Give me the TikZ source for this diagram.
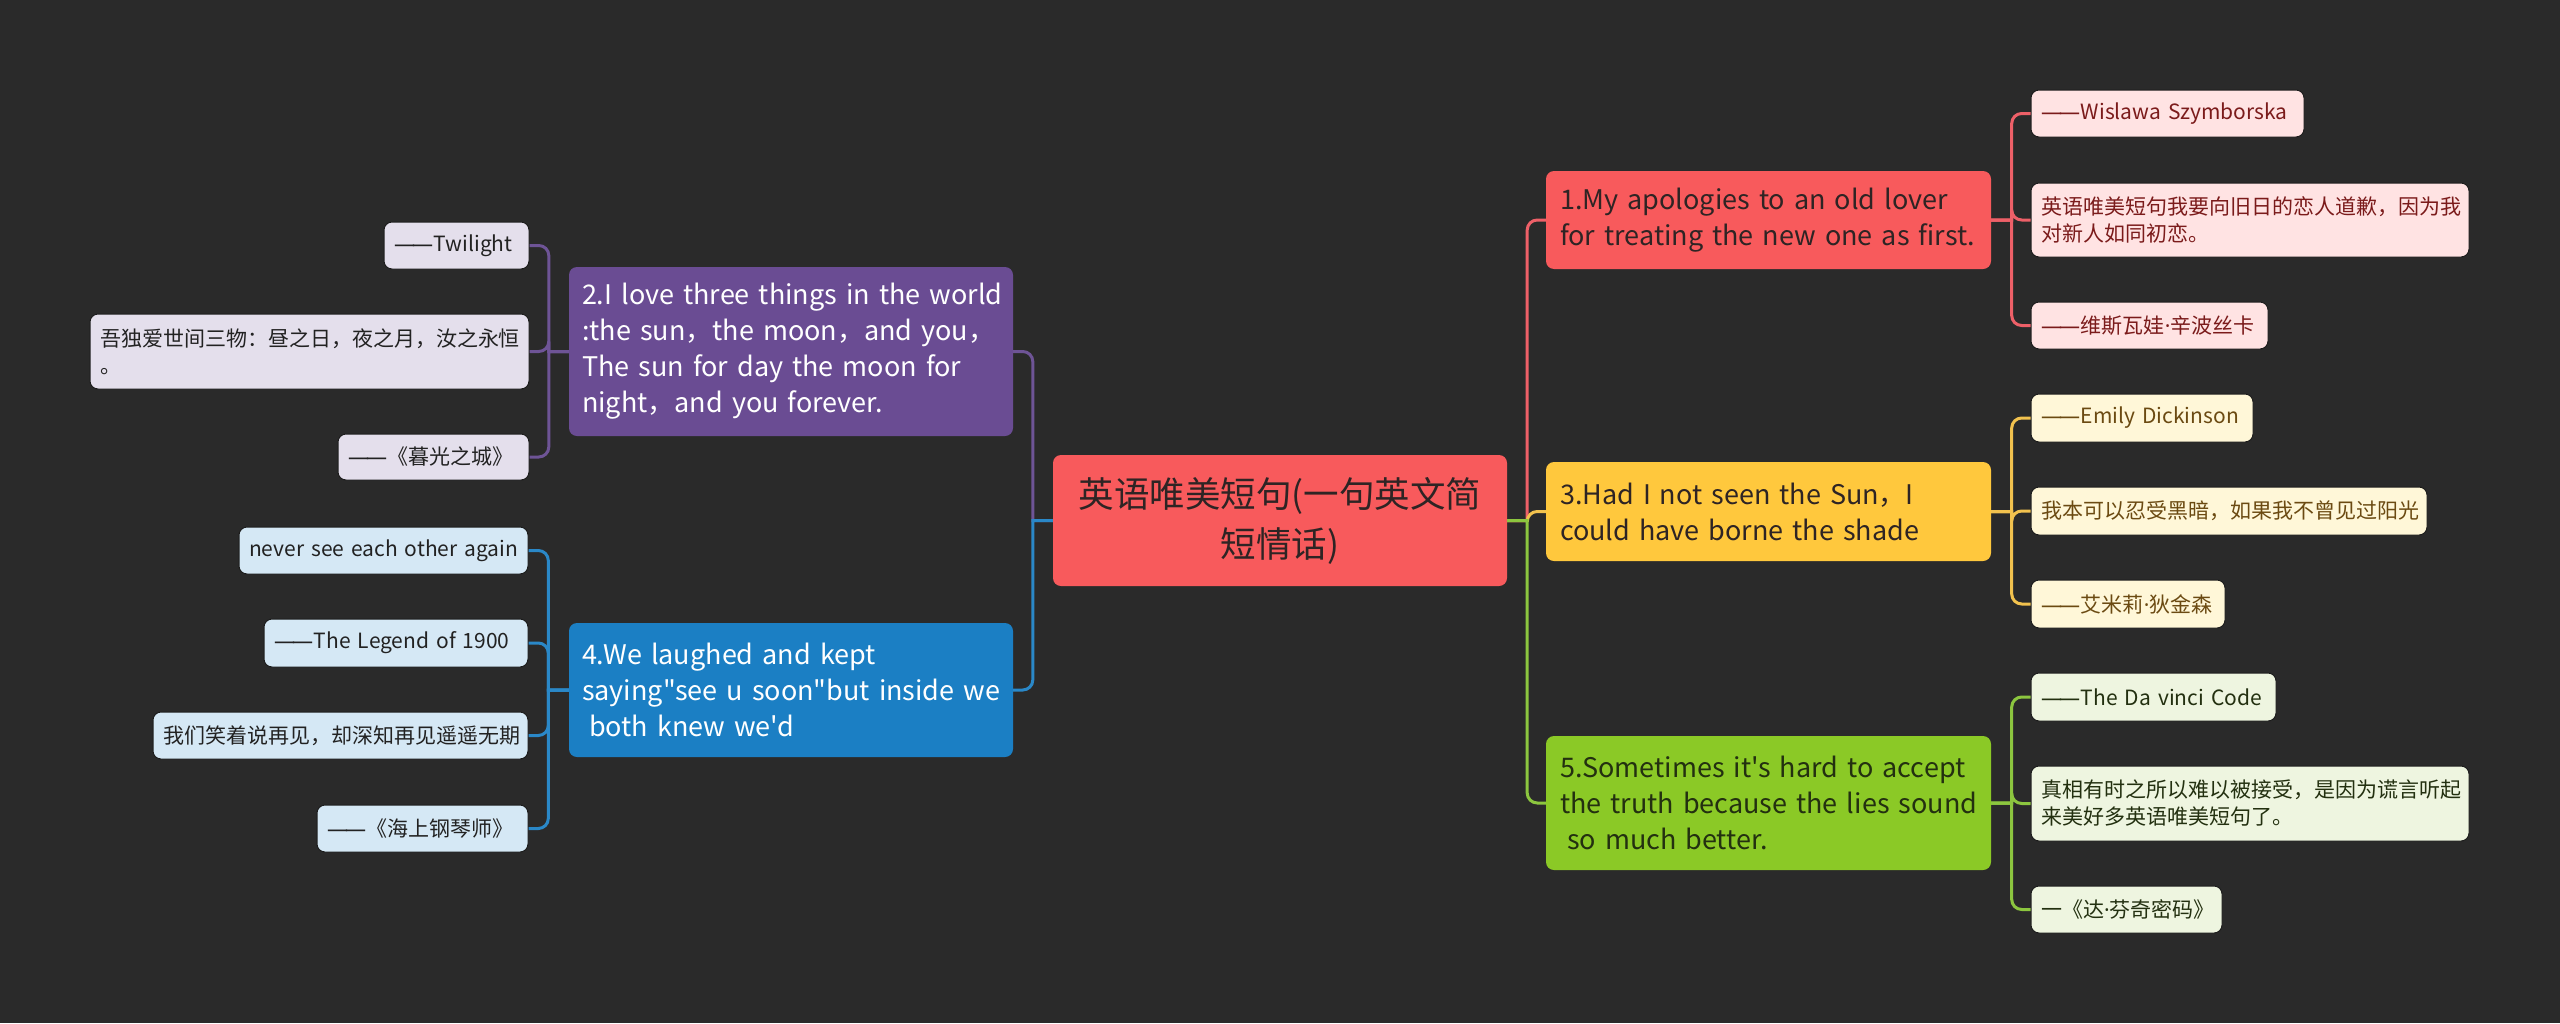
\documentclass[tikz,border=0pt]{standalone}
\usepackage{fontspec}
\setmainfont{Noto Sans CJK SC}[Ligatures=TeXOff]
\newfontfamily\latinf{Noto Sans}[Ligatures=TeXOff]
\newcommand\mydash{{\latinf —\kern-0.14em—\kern0.04em}}
\newcommand\mydot{{\latinf ·}}
\newcommand\myl[1]{\mbox{#1}}
\definecolor{bg}{HTML}{2A2A2A}
\definecolor{redm}{HTML}{F85A5C}
\definecolor{redl}{HTML}{EE6068}
\definecolor{redk}{HTML}{FFE3E3}
\definecolor{redt}{HTML}{7B1B1B}
\definecolor{yelm}{HTML}{FFC83D}
\definecolor{yell}{HTML}{F2C24E}
\definecolor{yelk}{HTML}{FFF7D8}
\definecolor{yelt}{HTML}{6B4A12}
\definecolor{grnm}{HTML}{8BC926}
\definecolor{grnl}{HTML}{8CC63F}
\definecolor{grnk}{HTML}{EEF5E0}
\definecolor{grnt}{HTML}{233010}
\definecolor{purm}{HTML}{6A4C93}
\definecolor{purl}{HTML}{6E5496}
\definecolor{purk}{HTML}{E4DFEC}
\definecolor{blum}{HTML}{1B7FC4}
\definecolor{blul}{HTML}{2A88C8}
\definecolor{bluk}{HTML}{D5E8F5}
\definecolor{darkt}{HTML}{2E2424}
\definecolor{kidt}{HTML}{222222}
\definecolor{kidedge}{HTML}{1C1C1C}
\begin{document}
\begin{tikzpicture}[x=1pt,y=-1pt,
  box/.style={rounded corners=8pt, inner ysep=0pt, align=left, anchor=center},
  mainbox/.style={box, inner xsep=14pt, font=\fontsize{27}{36}\selectfont, text width=417pt},
  kid/.style={box, inner xsep=10pt, font=\fontsize{21}{27}\selectfont, draw=kidedge, line width=1pt},
  conn/.style={line width=3pt}
]
\fill[bg] (0,0) rectangle (2560,1023);
\useasboundingbox (0,0) rectangle (2560,1023);

% center
\node[box, fill=redm, text=darkt, align=center, inner xsep=12pt, text width=430pt, minimum height=131pt,
  font=\fontsize{35.5}{50}\selectfont] (c) at (1280,520.5) {\myl{英语唯美短句(一句英文简}\\\myl{短情话)}};

% main topics
\node[mainbox, fill=redm, text=darkt, minimum height=98pt] (n1) at (1768.5,220)
  {\myl{1.My apologies to an old lover}\\\myl{for treating the new one as first.}};
\node[mainbox, fill=yelm, text=darkt, minimum height=99pt] (n3) at (1768.5,511.5)
  {\myl{3.Had I not seen the Sun，I}\\\myl{could have borne the shade}};
\node[mainbox, fill=grnm, text=grnt, minimum height=134pt] (n5) at (1768.5,803)
  {\myl{5.Sometimes it's hard to accept}\\\myl{the truth because the lies sound}\\\myl{\hspace*{7pt}so much better.}};
\node[mainbox, fill=purm, text=white, inner xsep=13pt, text width=418pt, minimum height=169pt] (n2) at (791,351.5)
  {\myl{2.I love three things in the world}\\\myl{:the sun，the moon，and you，}\\\myl{The sun for day the moon for}\\\myl{night，and you forever.}};
\node[mainbox, fill=blum, text=white, inner xsep=13pt, text width=418pt, minimum height=134pt] (n4) at (791,690)
  {\myl{4.We laughed and kept}\\\myl{saying"see u soon"but inside we}\\\myl{\hspace*{7pt}both knew we'd}};

% right children
\node[kid, fill=redk, text=redt, text width=253pt, minimum height=47pt] (k1a) at (2167.5,113.5) {\myl{\mydash Wislawa Szymborska}};
\node[kid, fill=redk, text=redt, text width=418pt, minimum height=74pt] (k1b) at (2250,220) {\myl{英语唯美短句我要向旧日的恋人道歉，因为我}\\\myl{对新人如同初恋。}};
\node[kid, fill=redk, text=redt, text width=217pt, minimum height=47pt] (k1c) at (2149.5,325.5) {\myl{\mydash 维斯瓦娃\mydot 辛波丝卡}};

\node[kid, fill=yelk, text=yelt, text width=202pt, minimum height=48pt] (k3a) at (2142,418) {\myl{\mydash Emily Dickinson}};
\node[kid, fill=yelk, text=yelt, text width=376pt, minimum height=48pt] (k3b) at (2229,511) {\myl{我本可以忍受黑暗，如果我不曾见过阳光}};
\node[kid, fill=yelk, text=yelt, text width=174pt, minimum height=48pt] (k3c) at (2128,604) {\myl{\mydash 艾米莉\mydot 狄金森}};

\node[kid, fill=grnk, text=grnt, text width=225pt, minimum height=48pt] (k5a) at (2153.5,697) {\myl{\mydash The Da vinci Code}};
\node[kid, fill=grnk, text=grnt, text width=418pt, minimum height=75pt] (k5b) at (2250,803.5) {\myl{真相有时之所以难以被接受，是因为谎言听起}\\\myl{来美好多英语唯美短句了。}};
\node[kid, fill=grnk, text=grnt, text width=171pt, minimum height=47pt] (k5c) at (2126.5,909.5) {\myl{一《达\mydot 芬奇密码》}};

% left children
\node[kid, fill=purk, text=kidt, text width=125pt, minimum height=47pt] (k2a) at (456.5,245.5) {\myl{\mydash Twilight}};
\node[kid, fill=purk, text=kidt, text width=419pt, minimum height=75pt] (k2b) at (309.5,351.5) {\myl{吾独爱世间三物：昼之日，夜之月，汝之永恒}\\\myl{。}};
\node[kid, fill=purk, text=kidt, text width=171pt, minimum height=46pt] (k2c) at (433.5,457) {\myl{\mydash《暮光之城》}};

\node[kid, fill=bluk, text=kidt, text width=269pt, minimum height=47pt] (k4a) at (383.5,550.5) {\myl{never see each other again}};
\node[kid, fill=bluk, text=kidt, text width=244pt, minimum height=48pt] (k4b) at (396,643) {\myl{\mydash The Legend of 1900}};
\node[kid, fill=bluk, text=kidt, text width=355pt, minimum height=47pt] (k4c) at (340.5,735.5) {\myl{我们笑着说再见，却深知再见遥遥无期}};
\node[kid, fill=bluk, text=kidt, text width=191pt, minimum height=47pt] (k4d) at (422.5,828.5) {\myl{\mydash《海上钢琴师》}};

% connectors center -> topics
\draw[conn, redl] (c.east) -- ++(20,0) [rounded corners=10pt] |- (n1.west);
\draw[conn, yell] (c.east) -- ++(20,0) [rounded corners=10pt] |- (n3.west);
\draw[conn, grnl] (c.east) -- ++(20,0) [rounded corners=10pt] |- (n5.west);
\draw[conn, purl] (c.west) -- ++(-20,0) [rounded corners=10pt] |- (n2.east);
\draw[conn, blul] (c.west) -- ++(-20,0) [rounded corners=10pt] |- (n4.east);

% topics -> children
\foreach \k in {k1a,k1b,k1c}{\draw[conn, redl] (n1.east) -- ++(20.5,0) [rounded corners=10pt] |- (\k.west);}
\foreach \k in {k3a,k3b,k3c}{\draw[conn, yell] (n3.east) -- ++(20.5,0) [rounded corners=10pt] |- (\k.west);}
\foreach \k in {k5a,k5b,k5c}{\draw[conn, grnl] (n5.east) -- ++(20.5,0) [rounded corners=10pt] |- (\k.west);}
\foreach \k in {k2a,k2b,k2c}{\draw[conn, purl] (n2.west) -- ++(-20,0) [rounded corners=10pt] |- (\k.east);}
\foreach \k in {k4a,k4b,k4c,k4d}{\draw[conn, blul] (n4.west) -- ++(-20.5,0) [rounded corners=10pt] |- (\k.east);}
\end{tikzpicture}
\end{document}
